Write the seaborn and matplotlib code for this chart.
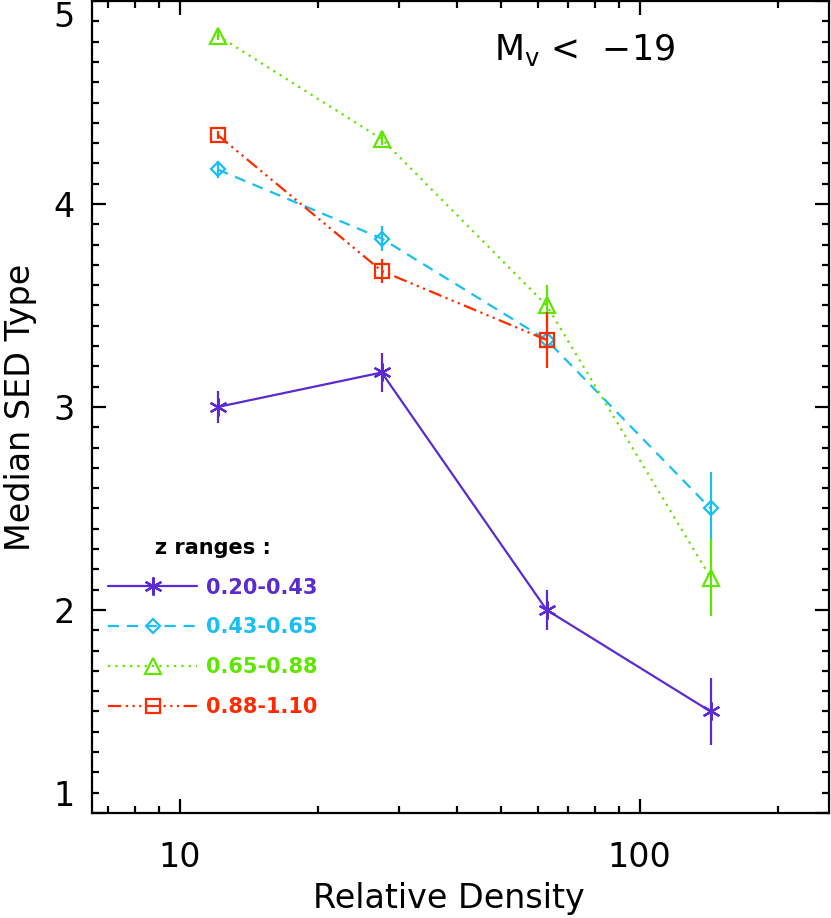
import numpy as np
import pandas as pd
import matplotlib
matplotlib.use("Agg")
import matplotlib.pyplot as plt
from matplotlib.ticker import FixedLocator, MultipleLocator, NullFormatter, FixedFormatter
import seaborn as sns

# ---- data ----
density = [12.1, 27.5, 62.8, 142.6]

sed_z1 = [3.00, 3.17, 2.00, 1.50]
err_z1 = [0.08, 0.095, 0.10, 0.165]

sed_z2 = [4.17, 3.83, 3.33, 2.50]
err_z2 = [0.04, 0.06, 0.05, 0.18]

sed_z3 = [4.83, 4.32, 3.50, 2.16]
err_z3 = [0.02, 0.03, 0.10, 0.19]

density_z4 = [12.1, 27.5, 62.8]
sed_z4 = [4.34, 3.67, 3.33]
err_z4 = [0.02, 0.06, 0.14]

labels = ["0.20-0.43", "0.43-0.65", "0.65-0.88", "0.88-1.10"]
colors = ["#5a2ad2", "#18bff2", "#5ee600", "#ff2a00"]

sns.set_style("ticks")
plt.rcParams["font.family"] = ["DejaVu Sans"]
plt.rcParams["mathtext.fontset"] = "dejavusans"
plt.rcParams["text.color"] = "black"
plt.rcParams["axes.labelcolor"] = "black"
plt.rcParams["xtick.color"] = "black"
plt.rcParams["ytick.color"] = "black"

fig = plt.figure(figsize=(8.31, 9.18), dpi=100)
ax = fig.add_axes([0.1103, 0.1144, 0.8873, 0.8845])

series = [
    (density, sed_z1, err_z1, "solid", (6, 2, 0), 13, "full"),
    (density, sed_z2, err_z2, (0, (5, 3.5)), "D", 7.5, "none"),
    (density, sed_z3, err_z3, (0, (1, 2.3)), "^", 11, "none"),
    (density_z4, sed_z4, err_z4, (0, (6, 2, 1, 2, 1, 2, 1, 2)), "s", 9.5, "none"),
]

lw = 1.6
handles = []
for (xs, ys, es, ls, mk, ms, fill), lab, col in zip(series, labels, colors):
    df = pd.DataFrame({"x": xs, "y": ys})
    sns.lineplot(data=df, x="x", y="y", ax=ax, color=col, linestyle=ls,
                 linewidth=lw, marker=mk, markersize=ms,
                 markerfacecolor=("none" if fill == "none" else col),
                 markeredgecolor=col, markeredgewidth=lw, label=lab,
                 legend=False)
    handles.append(ax.lines[-1])
    ax.errorbar(xs, ys, yerr=es, fmt="none", ecolor=col, elinewidth=lw,
                capsize=0)

ax.set_xscale("log")
ax.set_xlim(6.44, 258)
ax.set_ylim(1, 5)

ax.xaxis.set_major_locator(FixedLocator([10, 100]))
ax.xaxis.set_major_formatter(FixedFormatter(["10", "100"]))
ax.xaxis.set_minor_locator(FixedLocator([7, 8, 9, 20, 30, 40, 50, 60, 70, 80, 90, 200]))
ax.xaxis.set_minor_formatter(NullFormatter())
ax.yaxis.set_major_locator(FixedLocator([1, 2, 3, 4, 5]))
ax.yaxis.set_major_formatter(FixedFormatter(["1", "2", "3", "4", "5"]))
ax.yaxis.set_minor_locator(MultipleLocator(0.1))

for s in ax.spines.values():
    s.set_linewidth(1.6)
    s.set_color("black")
    s.set_visible(True)

ax.tick_params(which="both", direction="in", top=True, right=True,
               width=1.6, color="black", labelcolor="black", labelsize=24)
ax.tick_params(which="major", length=10)
ax.tick_params(which="minor", length=5)
ax.tick_params(axis="y", which="major", pad=12)
ax.tick_params(axis="x", which="major", pad=20)

ylabs = ax.get_yticklabels()
ylabs[0].set_verticalalignment("bottom")
ylabs[-1].set_verticalalignment("top")

ax.set_xlabel("Relative Density", fontsize=24, labelpad=4, color="black")
ax.xaxis.set_label_coords(0.484, -0.085)
ax.set_ylabel("Median SED Type", fontsize=24, labelpad=12, color="black")

ax.text(0.668, 0.94, r"M$_{\mathrm{v}}$ <  −19", transform=ax.transAxes,
        fontsize=25, ha="center", va="center", color="black")

leg = ax.legend(handles=handles, labels=labels, loc="upper left",
                bbox_to_anchor=(0.022, 0.339), frameon=False,
                title="z ranges :", fontsize=15, title_fontsize=15,
                handlelength=4.3, handletextpad=0.4, labelspacing=0.95,
                borderpad=0, borderaxespad=0)
for txt, col in zip(leg.get_texts(), colors):
    txt.set_color(col)
    txt.set_fontweight("bold")
leg.get_title().set_fontweight("bold")
leg.get_title().set_color("black")

ax.set_facecolor("white")
fig.patch.set_facecolor("white")
fig.savefig("out.png", dpi=100)
